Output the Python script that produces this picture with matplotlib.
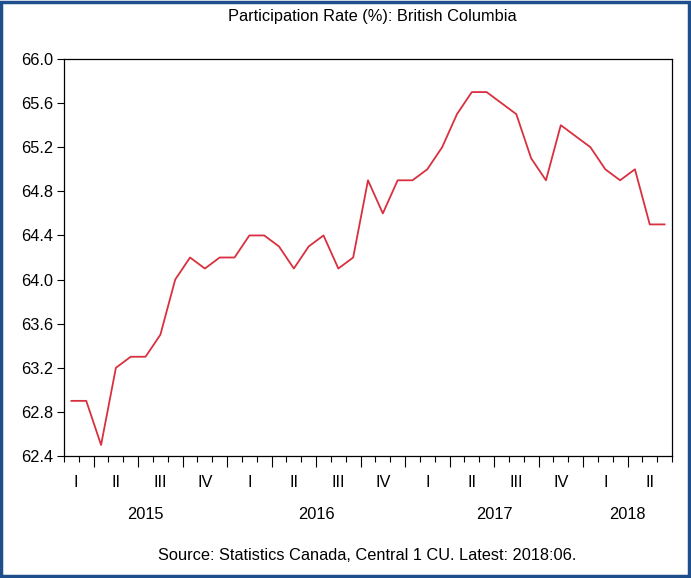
import matplotlib
matplotlib.use('Agg')
import matplotlib.pyplot as plt
from matplotlib.patches import Rectangle

plt.rcParams['font.family'] = ['Liberation Sans', 'DejaVu Sans']

# monthly, 2015:02 .. 2018:06
rate = [62.9, 62.9, 62.5, 63.2, 63.3, 63.3, 63.5, 64.0, 64.2, 64.1,
        64.2, 64.2, 64.4, 64.4, 64.3, 64.1, 64.3, 64.4, 64.1, 64.2,
        64.9, 64.6, 64.9, 64.9, 65.0, 65.2, 65.5, 65.7, 65.7, 65.6,
        65.5, 65.1, 64.9, 65.4, 65.3, 65.2, 65.0, 64.9, 65.0, 64.5,
        64.5]
months = list(range(len(rate)))

quarter_labels = ['I', 'II', 'III', 'IV', 'I', 'II', 'III', 'IV',
                  'I', 'II', 'III', 'IV', 'I', 'II']
quarter_pos = [0.3, 3, 6, 9, 12, 15, 18, 21, 24, 27, 30, 33, 36, 39]
years = ['2015', '2016', '2017', '2018']
year_pos = [5, 16.5, 28.5, 37.5]
yticks = [62.4, 62.8, 63.2, 63.6, 64.0, 64.4, 64.8, 65.2, 65.6, 66.0]

W, H = 691, 578
fs = 11.8
fig = plt.figure(figsize=(W / 100, H / 100), dpi=100)
ax = fig.add_axes([64 / W, 1 - 456 / H, 608 / W, 397 / H])

ax.plot(months, rate, color='#d9303f', lw=1.3)

ax.set_xlim(-0.5, len(rate) - 0.5)
ax.set_ylim(62.4, 66.0)
ax.set_yticks(yticks)
ax.set_yticklabels(['%.1f' % v for v in yticks], fontsize=fs)
ax.tick_params(axis='y', direction='out', length=5, width=0.8, pad=3)

# minor ticks at every month boundary, major at quarter starts
ax.set_xticks([m - 0.5 for m in range(len(rate) + 1)], minor=True)
ax.set_xticks([m - 0.5 for m in range(2, len(rate), 3)])
ax.set_xticklabels([])
ax.tick_params(axis='x', which='minor', direction='out', length=4, width=0.8)
ax.tick_params(axis='x', which='major', direction='out', length=8, width=0.8)

for p, lab in zip(quarter_pos, quarter_labels):
    ax.text(p, 62.4 - 0.24, lab, ha='center', va='center', fontsize=fs)
for p, lab in zip(year_pos, years):
    ax.text(p, 62.4 - 0.53, lab, ha='center', va='center', fontsize=fs)

for s in ax.spines.values():
    s.set_linewidth(0.9)

fig.text(372 / W, 1 - 17 / H, 'Participation Rate (%): British Columbia',
         ha='center', va='center', fontsize=fs)
fig.text(367 / W, 1 - 556 / H, 'Source: Statistics Canada, Central 1 CU. Latest: 2018:06.',
         ha='center', va='center', fontsize=fs)

fig.patches.append(Rectangle((0.002, 0.003), 0.995, 0.994, transform=fig.transFigure,
                             fill=False, edgecolor='#1f4e8c', lw=2.5))

fig.savefig('out.png', dpi=100)
